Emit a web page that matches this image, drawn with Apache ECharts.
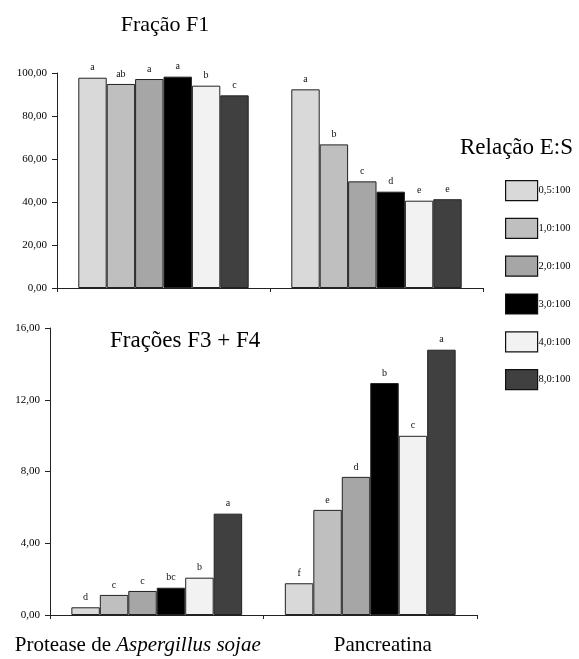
<!DOCTYPE html>
<html><head><meta charset="utf-8">
<script src="https://cdn.jsdelivr.net/npm/echarts@6/dist/echarts.min.js"></script>
<style>html,body{margin:0;padding:0;background:#fff}#c{width:579px;height:659px}</style>
</head><body><div id="c"></div>
<script>
var categories = ['Protease de Aspergillus sojae', 'Pancreatina'];
var italicPart = 'Aspergillus sojae';
var ratios = ['0,5:100', '1,0:100', '2,0:100', '3,0:100', '4,0:100', '8,0:100'];
var f1Protease = [97.8, 94.9, 97.2, 98.3, 94.1, 89.6];
var f1Pancreatina = [92.4, 66.8, 49.6, 44.8, 40.6, 41.3];
var f1LettersProtease = ['a', 'ab', 'a', 'a', 'b', 'c'];
var f1LettersPancreatina = ['a', 'b', 'c', 'd', 'e', 'e'];
var f34Protease = [0.43, 1.12, 1.34, 1.52, 2.08, 5.65];
var f34Pancreatina = [1.77, 5.86, 7.70, 12.93, 9.99, 14.79];
var f34LettersProtease = ['d', 'c', 'c', 'bc', 'b', 'a'];
var f34LettersPancreatina = ['f', 'e', 'd', 'b', 'c', 'a'];
var f1Ticks = [0, 20, 40, 60, 80, 100];
var f34Ticks = [0, 4, 8, 12, 16];

var colors = ['#d9d9d9', '#bfbfbf', '#a6a6a6', '#000000', '#f2f2f2', '#404040'];
var serif = '"Liberation Serif", "Times New Roman", serif';

function fmt(v) { return v.toFixed(2).replace('.', ','); }

var series = [];
ratios.forEach(function (r, i) {
  var letters1 = [f1LettersProtease[i], f1LettersPancreatina[i]];
  series.push({
    name: r, type: 'bar', xAxisIndex: 0, yAxisIndex: 0,
    data: [f1Protease[i], f1Pancreatina[i]],
    barGap: '0%', barCategoryGap: '20%',
    itemStyle: { color: colors[i], borderColor: '#222', borderWidth: 1 },
    label: { show: true, position: 'top', distance: 5, fontFamily: serif, fontSize: 10, color: '#111',
      formatter: function (p) { return letters1[p.dataIndex]; } }
  });
  var letters2 = [f34LettersProtease[i], f34LettersPancreatina[i]];
  series.push({
    name: r, type: 'bar', xAxisIndex: 1, yAxisIndex: 1,
    data: [f34Protease[i], f34Pancreatina[i]],
    barGap: '0%', barCategoryGap: '20%',
    itemStyle: { color: colors[i], borderColor: '#222', borderWidth: 1 },
    label: { show: true, position: 'top', distance: 5, fontFamily: serif, fontSize: 10, color: '#111',
      formatter: function (p) { return letters2[p.dataIndex]; } }
  });
});

var axisLine = { show: true, lineStyle: { color: '#222', width: 1 } };
var axisTick = { show: true, length: 5, lineStyle: { color: '#222' } };

var option = {
  animation: false,
  backgroundColor: '#fff',
  title: [
    { text: 'Fração F1', left: 160, top: 9, textAlign: 'center',
      textStyle: { fontFamily: serif, fontSize: 22, fontWeight: 'normal', color: '#000' } },
    { text: 'Relação E:S', left: 455, top: 131,
      textStyle: { fontFamily: serif, fontSize: 23, fontWeight: 'normal', color: '#000' } },
    { text: 'Frações F3 + F4', left: 105, top: 324,
      textStyle: { fontFamily: serif, fontSize: 23, fontWeight: 'normal', color: '#000' } }
  ],
  legend: {
    data: ratios.map(function (r) { return { name: r, icon: 'rect' }; }),
    orient: 'vertical', left: 505, top: 180, padding: 0,
    itemWidth: 32, itemHeight: 20, itemGap: 16.6,
    itemStyle: { borderWidth: 1.2, borderColor: '#111' },
    textStyle: { fontFamily: serif, fontSize: 10.5, color: '#000', padding: [0, 0, 0, -4] },
    selectedMode: false
  },
  grid: [
    { left: 57, right: 96, top: 73, height: 215 },
    { left: 50, right: 102, top: 328, height: 287 }
  ],
  xAxis: [
    { type: 'category', gridIndex: 0, data: categories, axisLine: axisLine,
      axisTick: { show: true, length: 4, lineStyle: { color: '#222' } }, axisLabel: { show: false } },
    { type: 'category', gridIndex: 1, data: categories, axisLine: axisLine,
      axisTick: { show: true, length: 4, lineStyle: { color: '#222' } },
      axisLabel: {
        show: true, interval: 0, hideOverlap: false, margin: 20, fontFamily: serif, fontSize: 21, color: '#000',
        formatter: function (v) {
          if (v.indexOf(italicPart) >= 0) {
            return '{n|' + v.replace(italicPart, '') + '}{i|' + italicPart + '}{p|}';
          }
          return '{q|}{n|' + v + '}';
        },
        rich: {
          n: { fontFamily: serif, fontSize: 21, color: '#000' },
          i: { fontFamily: serif, fontSize: 21, fontStyle: 'italic', color: '#000' },
          p: { width: 38 },
          q: { width: 25 }
        }
      } }
  ],
  yAxis: [
    { type: 'value', gridIndex: 0, min: f1Ticks[0], max: f1Ticks[f1Ticks.length - 1], interval: 20,
      axisLine: axisLine, axisTick: axisTick, splitLine: { show: false },
      axisLabel: { margin: 10, fontFamily: serif, fontSize: 11, color: '#000', formatter: fmt } },
    { type: 'value', gridIndex: 1, min: f34Ticks[0], max: f34Ticks[f34Ticks.length - 1], interval: 4,
      axisLine: axisLine, axisTick: axisTick, splitLine: { show: false },
      axisLabel: { margin: 10, fontFamily: serif, fontSize: 11, color: '#000', formatter: fmt } }
  ],
  series: series
};

var chart = echarts.init(document.getElementById('c'), null, { renderer: 'canvas' });
chart.setOption(option);
</script>
</body></html>
